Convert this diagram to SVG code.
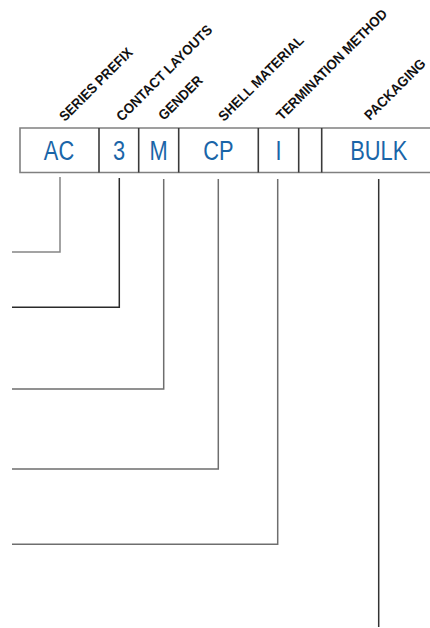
<svg xmlns="http://www.w3.org/2000/svg" width="430" height="628" viewBox="0 0 430 628">
<style>
.lbl{font-family:"Liberation Sans",Arial,sans-serif;font-weight:bold;font-size:14px;fill:#111}
.code{font-family:"Liberation Sans",Arial,sans-serif;font-size:28px;fill:#1a65a8;text-anchor:middle}
.frame{fill:none;stroke:#808080;stroke-width:1.6}
.div{stroke:#3a3a3a;stroke-width:1.6}
.conn{fill:none;stroke:#6e6e6e;stroke-width:1.5}
</style>
<rect width="430" height="628" fill="#fff"/>
<g id="labels">
<g transform="translate(65 122) rotate(-45)"><text class="lbl" x="0" y="0" textLength="97" lengthAdjust="spacingAndGlyphs">SERIES PREFIX</text></g>
<g transform="translate(122 122) rotate(-45)"><text class="lbl" x="0" y="0" textLength="129" lengthAdjust="spacingAndGlyphs">CONTACT LAYOUTS</text></g>
<g transform="translate(164 121) rotate(-45)"><text class="lbl" x="0" y="0" textLength="56" lengthAdjust="spacingAndGlyphs">GENDER</text></g>
<g transform="translate(224 122) rotate(-45)"><text class="lbl" x="0" y="0" textLength="114" lengthAdjust="spacingAndGlyphs">SHELL MATERIAL</text></g>
<g transform="translate(282 121) rotate(-45)"><text class="lbl" x="0" y="0" textLength="150" lengthAdjust="spacingAndGlyphs">TERMINATION METHOD</text></g>
<g transform="translate(370 121) rotate(-45)"><text class="lbl" x="0" y="0" textLength="80" lengthAdjust="spacingAndGlyphs">PACKAGING</text></g>
</g>
<g id="box">
<path class="frame" d="M432,128 H20 V172.5 H432"/>
<line class="div" x1="99" y1="128" x2="99" y2="172.5"/>
<line class="div" x1="138.7" y1="128" x2="138.7" y2="172.5"/>
<line class="div" x1="178.7" y1="128" x2="178.7" y2="172.5"/>
<line class="div" x1="258.3" y1="128" x2="258.3" y2="172.5"/>
<line class="div" x1="298.7" y1="128" x2="298.7" y2="172.5"/>
<line class="div" x1="321.7" y1="128" x2="321.7" y2="172.5"/>
</g>
<g id="node-ac"><g transform="translate(59 160) scale(0.78 1)"><text class="code" x="0" y="0">AC</text></g></g>
<g id="node-3"><g transform="translate(119 160) scale(0.78 1)"><text class="code" x="0" y="0">3</text></g></g>
<g id="node-m"><g transform="translate(158.7 160) scale(0.78 1)"><text class="code" x="0" y="0">M</text></g></g>
<g id="node-cp"><g transform="translate(218.5 160) scale(0.78 1)"><text class="code" x="0" y="0">CP</text></g></g>
<g id="node-i"><g transform="translate(278.5 160) scale(0.78 1)"><text class="code" x="0" y="0">I</text></g></g>
<g id="node-bulk"><g transform="translate(378.7 160) scale(0.78 1)"><text class="code" x="0" y="0">BULK</text></g></g>
<g id="connectors">
<path class="conn" d="M60,177 V252 H12" style="stroke:#858585"/>
<path class="conn" d="M119.3,178 V307.3 H12" style="stroke:#2a2a2a"/>
<path class="conn" d="M163.7,179 V389 H12"/>
<path class="conn" d="M218.3,179 V469 H12"/>
<path class="conn" d="M277.7,179 V544.3 H12"/>
<path class="conn" d="M378.7,179 V627" style="stroke:#333"/>
</g>
</svg>
